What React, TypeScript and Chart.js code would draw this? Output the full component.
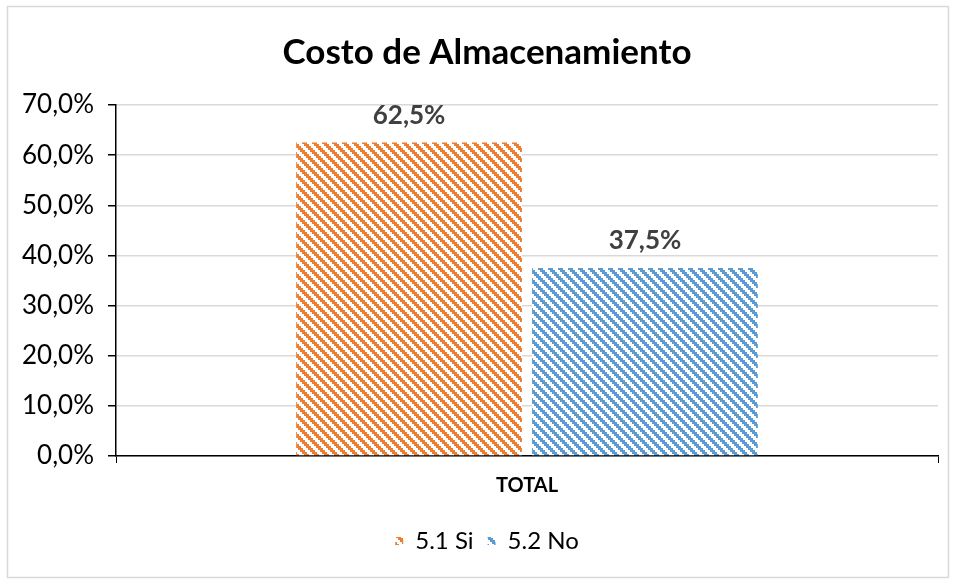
import React, { useEffect, useRef } from "react";
import { Chart, registerables } from "chart.js";

Chart.register(...registerables);

const TITLE = "Costo de Almacenamiento";
const CATEGORIES = ["TOTAL"];
const SERIES_NAMES = ["5.1 Si", "5.2 No"];
const SERIES_VALUES = [[62.5], [37.5]];
const SERIES_COLORS = ["#ED7D31", "#5B9BD5"];
const Y_TICKS_MAX = 70;
const Y_STEP = 10;

const FONT = "Lato, 'Open Sans', sans-serif";

function makePattern(color: string): CanvasPattern | string {
  const c = document.createElement("canvas");
  c.width = 10;
  c.height = 10;
  const ctx = c.getContext("2d");
  if (!ctx) return color;
  ctx.fillStyle = "#ffffff";
  ctx.fillRect(0, 0, 10, 10);
  ctx.fillStyle = color;
  for (let y = 0; y < 10; y++) {
    for (let x = 0; x < 10; x++) {
      const d = (((Math.floor(x / 2) - Math.floor(y / 2)) % 5) + 5) % 5;
      if (d === 0 || d === 1 || (d === 2 && x % 2 === 0)) ctx.fillRect(x, y, 1, 1);
    }
  }
  const p = ctx.createPattern(c, "repeat");
  return p || color;
}

const fmtPct = (v: number) => v.toFixed(1).replace(".", ",") + "%";

export default function App() {
  const ref = useRef<HTMLCanvasElement | null>(null);

  useEffect(() => {
    document.body.style.margin = "0";
    const canvas = ref.current;
    if (!canvas) return;

    const borderPlugin = {
      id: "frame",
      beforeDraw(chart: any) {
        const ctx = chart.ctx;
        ctx.save();
        ctx.fillStyle = "#ffffff";
        ctx.fillRect(0, 0, chart.width, chart.height);
        ctx.strokeStyle = "#d9d9d9";
        ctx.lineWidth = 1.5;
        ctx.strokeRect(7.5, 6.5, 941, 571);
        ctx.restore();
      },
    };

    const labelPlugin = {
      id: "valueLabels",
      afterDatasetsDraw(chart: any) {
        const ctx = chart.ctx;
        ctx.save();
        ctx.font = `bold 26px ${FONT}`;
        ctx.fillStyle = "#404040";
        ctx.textAlign = "center";
        ctx.textBaseline = "middle";
        chart.data.datasets.forEach((ds: any, i: number) => {
          const meta = chart.getDatasetMeta(i);
          meta.data.forEach((el: any, j: number) => {
            ctx.fillText(fmtPct(ds.data[j]), el.x, el.y - 27);
          });
        });
        ctx.restore();
      },
    };

    const chart = new Chart(canvas, {
      type: "bar",
      data: {
        labels: CATEGORIES,
        datasets: SERIES_NAMES.map((name, i) => ({
          label: name,
          data: SERIES_VALUES[i],
          backgroundColor: makePattern(SERIES_COLORS[i]) as any,
          borderWidth: 0,
          categoryPercentage: 0.574,
          barPercentage: 0.957,
        })),
      },
      options: {
        animation: false,
        responsive: false,
        maintainAspectRatio: false,
        layout: { padding: { left: 16, right: 0, top: 10, bottom: 16 } },
        plugins: {
          title: {
            display: true,
            text: TITLE,
            color: "#000000",
            font: { family: FONT, size: 35, weight: "bold" },
            padding: { top: 22, bottom: 31 },
          },
          legend: {
            position: "bottom",
            labels: {
              usePointStyle: true,
              pointStyle: "rect",
              boxWidth: 8,
              boxHeight: 8,
              color: "#000000",
              font: { family: FONT, size: 24 },
              padding: 14,
            },
          },
          tooltip: { enabled: false },
        },
        scales: {
          x: {
            offset: true,
            grid: {
              display: true,
              drawOnChartArea: false,
              drawTicks: true,
              tickLength: 7,
              tickColor: "#000000",
              offset: true,
            },
            border: { display: true, color: "#000000", width: 1.5 },
            ticks: {
              color: "#000000",
              font: { family: FONT, size: 20, weight: "bold" },
              padding: 11,
            },
            afterFit(axis: any) {
              axis.height = 59;
            },
          },
          y: {
            min: 0,
            max: Y_TICKS_MAX,
            grid: {
              color: "#d9d9d9",
              lineWidth: 1.5,
              tickColor: "#000000",
              tickLength: 8,
            },
            border: { display: true, color: "#000000", width: 1.5 },
            ticks: {
              stepSize: Y_STEP,
              color: "#000000",
              font: { family: FONT, size: 26 },
              padding: 14,
              callback: (v: any) => fmtPct(Number(v)),
            },
            afterFit(axis: any) {
              axis.width = 100;
            },
          },
          yRight: {
            position: "right",
            display: true,
            min: 0,
            max: Y_TICKS_MAX,
            grid: { display: false },
            border: { display: false },
            ticks: { display: false },
            afterFit(axis: any) {
              axis.width = 20;
            },
          },
        },
      },
      plugins: [borderPlugin, labelPlugin],
    });

    return () => chart.destroy();
  }, []);

  return (
    <div style={{ width: 958, height: 579 }}>
      <canvas ref={ref} width={958} height={579} style={{ display: "block" }} />
    </div>
  );
}
